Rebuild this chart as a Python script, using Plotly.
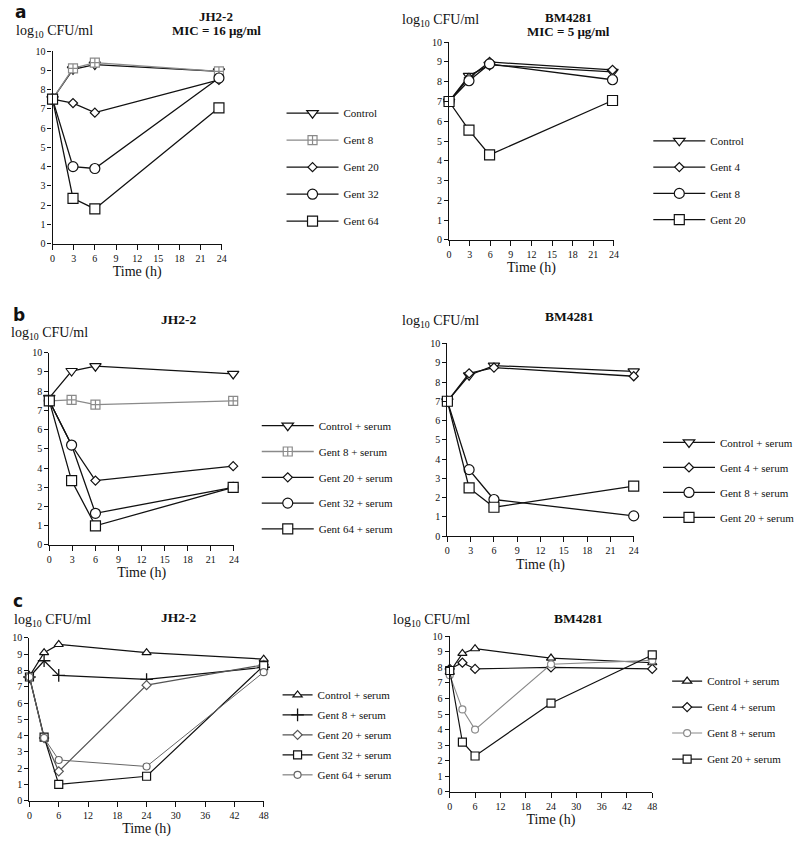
import plotly.graph_objects as go

# ---------------- data ----------------
# Panel a, JH2-2 (MIC = 16 ug/ml)
a1_time = [0, 2.9, 6.0, 23.6]
a1_control = [7.5, 9.05, 9.3, 8.95]
a1_gent8 = [7.5, 9.1, 9.4, 8.95]
a1_gent20 = [7.5, 7.3, 6.8, 8.5]
a1_gent32 = [7.5, 4.0, 3.9, 8.6]
a1_gent64 = [7.5, 2.35, 1.8, 7.05]

# Panel a, BM4281 (MIC = 5 ug/ml)
a2_time = [0, 2.9, 5.9, 23.8]
a2_control = [7.0, 8.3, 8.85, 8.5]
a2_gent4 = [7.0, 8.2, 9.0, 8.6]
a2_gent8 = [7.0, 8.05, 8.9, 8.1]
a2_gent20 = [7.0, 5.55, 4.3, 7.05]

# Panel b, JH2-2 + serum
b1_time = [0, 2.9, 6.0, 23.9]
b1_control = [7.65, 9.05, 9.3, 8.9]
b1_gent8 = [7.5, 7.55, 7.3, 7.5]
b1_gent20 = [7.5, 5.2, 3.35, 4.1]
b1_gent32 = [7.5, 5.2, 1.65, 3.0]
b1_gent64 = [7.5, 3.35, 1.0, 3.0]

# Panel b, BM4281 + serum
b2_time = [0, 2.8, 6.0, 24.0]
b2_control = [7.0, 8.35, 8.85, 8.55]
b2_gent4 = [7.0, 8.45, 8.75, 8.3]
b2_gent8 = [7.0, 3.45, 1.9, 1.05]
b2_gent20 = [7.0, 2.5, 1.5, 2.6]

# Panel c, JH2-2 + serum (48 h)
c1_time = [0, 3, 6, 24, 48]
c1_control = [7.65, 9.1, 9.6, 9.1, 8.7]
c1_gent8 = [7.6, 8.6, 7.7, 7.45, 8.2]
c1_gent20 = [7.6, 3.85, 1.8, 7.1, 8.35]
c1_gent32 = [7.6, 3.9, 1.0, 1.5, 8.3]
c1_gent64 = [7.6, 3.85, 2.5, 2.1, 7.9]

# Panel c, BM4281 + serum (48 h)
c2_time = [0, 3, 6, 24, 48]
c2_control = [7.7, 8.9, 9.2, 8.6, 8.3]
c2_gent4 = [7.9, 8.3, 7.9, 8.0, 7.9]
c2_gent8 = [7.5, 5.3, 4.0, 8.2, 8.45]
c2_gent20 = [7.8, 3.2, 2.3, 5.7, 8.8]

W, H = 800, 852
SERIF = "Liberation Serif, Times New Roman, serif"
BLACK = "#111111"
GRAY = "#8a8a8a"

fig = go.Figure()


def px_x(p):
    return p / W


def px_y(p):
    return 1 - p / H


def add(name, t, v, ax, leg, symbol, size, color=BLACK, mcolor=None, open_=False, lw=1.3):
    n = ax[1:] if len(ax) > 1 else ""
    marker = dict(symbol=symbol, size=size)
    if open_:
        marker.update(color=mcolor or color, line=dict(width=1.3))
    else:
        marker.update(color="white", line=dict(color=mcolor or color, width=1.2))
    fig.add_trace(go.Scatter(
        x=t, y=v, name=name, mode="lines+markers",
        line=dict(color=color, width=lw),
        marker=marker, cliponaxis=False,
        xaxis="x" + n, yaxis="y" + n, legend=leg, legendgroup=leg + name,
    ))


# a-left
add("Control", a1_time, a1_control, "x", "legend", "triangle-down", 10)
add("Gent 8", a1_time, a1_gent8, "x", "legend", "square-cross", 9, color=GRAY)
add("Gent 20", a1_time, a1_gent20, "x", "legend", "diamond", 7)
add("Gent 32", a1_time, a1_gent32, "x", "legend", "circle", 10)
add("Gent 64", a1_time, a1_gent64, "x", "legend", "square", 10)
# a-right
add("Control", a2_time, a2_control, "x2", "legend2", "triangle-down", 10)
add("Gent 4", a2_time, a2_gent4, "x2", "legend2", "diamond", 7)
add("Gent 8", a2_time, a2_gent8, "x2", "legend2", "circle", 10)
add("Gent 20", a2_time, a2_gent20, "x2", "legend2", "square", 10)
# b-left
add("Control + serum", b1_time, b1_control, "x3", "legend3", "triangle-down", 10)
add("Gent 8 + serum", b1_time, b1_gent8, "x3", "legend3", "square-cross", 9, color=GRAY)
add("Gent 20 + serum", b1_time, b1_gent20, "x3", "legend3", "diamond", 7)
add("Gent 32 + serum", b1_time, b1_gent32, "x3", "legend3", "circle", 10)
add("Gent 64 + serum", b1_time, b1_gent64, "x3", "legend3", "square", 10)
# b-right
add("Control + serum", b2_time, b2_control, "x4", "legend4", "triangle-down", 10)
add("Gent 4 + serum", b2_time, b2_gent4, "x4", "legend4", "diamond", 7)
add("Gent 8 + serum", b2_time, b2_gent8, "x4", "legend4", "circle", 10)
add("Gent 20 + serum", b2_time, b2_gent20, "x4", "legend4", "square", 10)
# c-left
add("Control + serum", c1_time, c1_control, "x5", "legend5", "triangle-up", 8, lw=1.2)
add("Gent 8 + serum", c1_time, c1_gent8, "x5", "legend5", "cross-thin-open", 9, open_=True, lw=1.2)
add("Gent 20 + serum", c1_time, c1_gent20, "x5", "legend5", "diamond", 7, color="#555555", lw=1.2)
add("Gent 32 + serum", c1_time, c1_gent32, "x5", "legend5", "square", 8, lw=1.2)
add("Gent 64 + serum", c1_time, c1_gent64, "x5", "legend5", "circle", 7, color="#666666", lw=1.0)
# c-right
add("Control + serum", c2_time, c2_control, "x6", "legend6", "triangle-up", 8, lw=1.2)
add("Gent 4 + serum", c2_time, c2_gent4, "x6", "legend6", "diamond", 7, lw=1.2)
add("Gent 8 + serum", c2_time, c2_gent8, "x6", "legend6", "circle", 7, color=GRAY, lw=1.1)
add("Gent 20 + serum", c2_time, c2_gent20, "x6", "legend6", "square", 8, lw=1.2)

# ---------------- axes ----------------
panels = [
    # (suffix, x0, x1, ytop, ybot, xmax, xdtick)
    ("", 51, 221.7, 45.7, 241, 24, 3),
    ("2", 451, 617.3, 36.7, 237.3, 24, 3),
    ("3", 47.7, 234, 351.7, 546.7, 24, 3),
    ("4", 449.3, 637.3, 342.3, 537.7, 24, 3),
    ("5", 27.7, 264, 641, 806, 48, 6),
    ("6", 451.7, 656, 639.3, 797, 48, 6),
]
tickfont = dict(family=SERIF, size=10, color=BLACK)
for s, x0, x1, yt, yb, xmax, dt in panels:
    fig.layout["xaxis" + s] = dict(
        domain=[px_x(x0), px_x(x1)], anchor="y" + s, range=[0, xmax], dtick=dt,
        showline=True, linecolor=BLACK, linewidth=1.3, ticks="outside", ticklen=5,
        tickwidth=1, tickcolor=BLACK, showgrid=False, zeroline=False, tickfont=tickfont,
        title=dict(text="Time (h)", font=dict(family=SERIF, size=14, color=BLACK), standoff=3),
        fixedrange=True,
    )
    fig.layout["yaxis" + s] = dict(
        domain=[px_y(yb), px_y(yt)], anchor="x" + s, range=[0, 10], dtick=1,
        showline=True, linecolor=BLACK, linewidth=1.3, ticks="outside", ticklen=4,
        tickwidth=1, tickcolor=BLACK, showgrid=False, zeroline=False, tickfont=tickfont,
        fixedrange=True,
    )

# ---------------- legends ----------------
legends = {
    # name: (left px, top px, itemwidth, tracegroupgap, font size)
    "legend": (282, 94, 52, 8, 11),
    "legend2": (652, 122, 52, 7.3, 11),
    "legend3": (257, 411, 52, 6.8, 11),
    "legend4": (662, 428, 52, 6, 11),
    "legend5": (278, 684, 30, 1, 11),
    "legend6": (671, 670, 30, 7, 11),
}
for k, (lx, ly, iw, gap, fs) in legends.items():
    fig.layout[k] = dict(
        x=px_x(lx), y=px_y(ly), xanchor="left", yanchor="top",
        font=dict(family=SERIF, size=fs, color=BLACK),
        bgcolor="rgba(0,0,0,0)", borderwidth=0, itemwidth=iw, tracegroupgap=gap,
        itemclick=False, itemdoubleclick=False,
    )

# ---------------- annotations ----------------
def ann(text, x, y, size=14, family=SERIF, xanchor="left", bold=False):
    fig.add_annotation(
        text=("<b>%s</b>" % text) if bold else text, x=px_x(x), y=px_y(y),
        xref="paper", yref="paper", xanchor=xanchor, yanchor="middle",
        showarrow=False, font=dict(family=family, size=size, color=BLACK),
    )

ylab = "log<sub>10</sub> CFU/ml"
ann("a", 11, 6, size=17, family="DejaVu Sans", bold=True)
ann("b", 9, 313, size=17, family="DejaVu Sans", bold=True)
ann("c", 9, 603, size=17, family="DejaVu Sans", bold=True)
ann(ylab, 12, 26, size=14)
ann(ylab, 402, 15, size=14)
ann(ylab, 7, 332, size=14)
ann(ylab, 402, 320, size=14)
ann(ylab, 10, 623, size=14)
ann(ylab, 392, 623, size=14)
ann("JH2-2", 216, 11, size=13, xanchor="center", bold=True)
ann("MIC = 16 µg/ml", 216, 25, size=13, xanchor="center", bold=True)
ann("BM4281", 571, 12, size=13, xanchor="center", bold=True)
ann("MIC = 5 µg/ml", 571, 26, size=13, xanchor="center", bold=True)
ann("JH2-2", 178, 318, size=13.5, xanchor="center", bold=True)
ann("BM4281", 573, 315, size=13.5, xanchor="center", bold=True)
ann("JH2-2", 178, 620, size=13.5, xanchor="center", bold=True)
ann("BM4281", 582, 621, size=13.5, xanchor="center", bold=True)

fig.update_layout(
    width=W, height=H, margin=dict(l=0, r=0, t=0, b=0),
    font=dict(family=SERIF, color=BLACK),
    paper_bgcolor="white", plot_bgcolor="white", showlegend=True,
)

fig.write_html(
    "out.html",
    config={"displayModeBar": False},
    post_script="document.body.style.margin='0';document.body.style.padding='0';",
)
